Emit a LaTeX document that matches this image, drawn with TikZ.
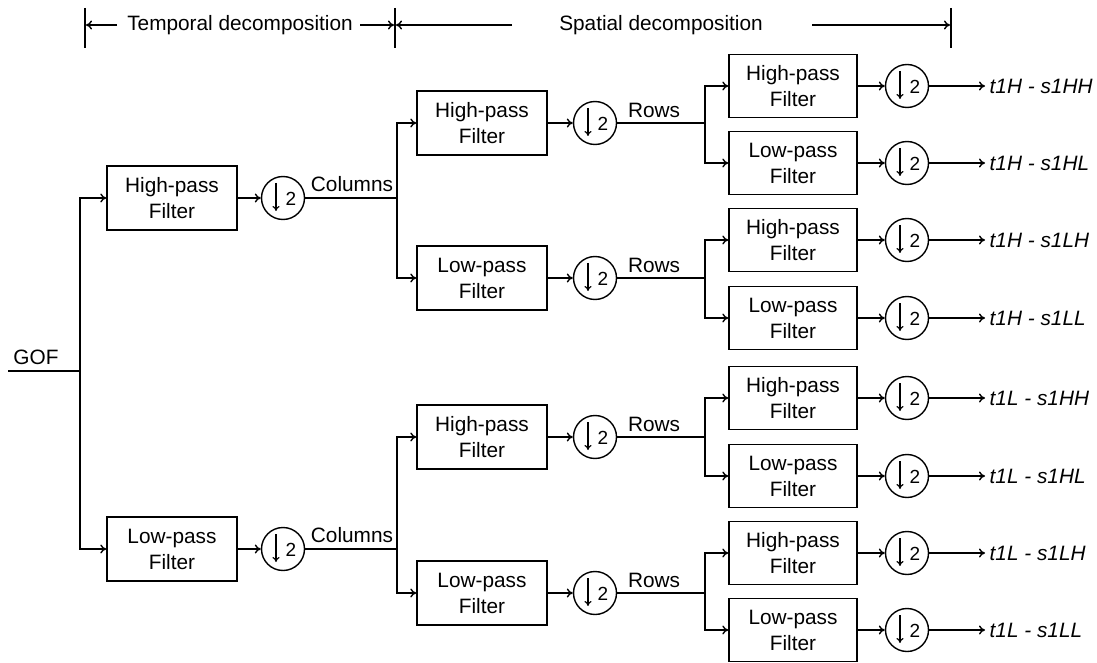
\documentclass[tikz,border=0pt]{standalone}
\usepackage{fontspec}
\setmainfont{Liberation Sans}
\usetikzlibrary{arrows.meta}
\begin{document}
\begin{tikzpicture}[x=0.5pt,y=-0.5pt, line width=0.7pt,
  every node/.style={font=\fontsize{10.4}{13}\selectfont},
  filt/.style={draw, minimum width=65pt, minimum height=32pt, align=center, inner sep=0pt},
  dn/.style={draw, circle, minimum size=21.5pt, inner sep=0pt,
    path picture={
      \draw[line width=0.6pt,-{To[length=2.5pt,width=3.5pt]}] ([xshift=-3.5pt,yshift=7.5pt]path picture bounding box.center) -- ++(0pt,-14pt);
      \node[inner sep=0pt, font=\fontsize{9.5}{11}\selectfont] at ([xshift=4pt,yshift=-0.5pt]path picture bounding box.center) {2};}},
  arr/.style={-{To[length=3pt,width=4.5pt]}},
  lbl/.style={inner sep=0pt},
  outl/.style={inner sep=0pt, anchor=west, font=\fontsize{10.4}{13}\selectfont\itshape},
]
\useasboundingbox (0,0) rectangle (1097,663);

% header
\coordinate (b1t) at (85,8);   \coordinate (b1b) at (85,48);
\coordinate (b2t) at (395,8);  \coordinate (b2b) at (395,48);
\coordinate (b3t) at (951,8);  \coordinate (b3b) at (951,48);
\draw (b1t) -- (b1b); \draw (b2t) -- (b2b); \draw (b3t) -- (b3b);
\node[lbl] (tdec) at (240,25) {Temporal decomposition};
\node[lbl] (sdec) at (661,25) {Spatial decomposition};
\coordinate (a1s) at (117,25); \coordinate (a1e) at (86,25);
\coordinate (a2s) at (360,25); \coordinate (a2e) at (394,25);
\coordinate (a3s) at (512,25); \coordinate (a3e) at (396,25);
\coordinate (a4s) at (812,25); \coordinate (a4e) at (950,25);
\draw[arr] (a1s) -- (a1e);
\draw[arr] (a2s) -- (a2e);
\draw[arr] (a3s) -- (a3e);
\draw[arr] (a4s) -- (a4e);

% input
\node[lbl] (gof) at (36,357) {GOF};
\coordinate (in0) at (8,371);
\coordinate (j0) at (80,371);
\draw (in0) -- (j0);

% level 1
\node[filt] (f1a) at (172,198) {High-pass\\Filter};
\node[filt] (f1b) at (172,549) {Low-pass\\Filter};
\draw[arr] (j0) |- (f1a.west);
\draw[arr] (j0) |- (f1b.west);
\node[dn] (c1a) at (283,198) {};
\node[dn] (c1b) at (283,549) {};
\draw[arr] (f1a) -- (c1a);
\draw[arr] (f1b) -- (c1b);
\coordinate (j1a) at (397,198);
\coordinate (j1b) at (397,549);
\draw (c1a) -- (j1a);
\draw (c1b) -- (j1b);
\node[lbl] (col1) at (352,184) {Columns};
\node[lbl] (col2) at (352,535) {Columns};

% level 2
\node[filt] (f2a) at (482,123) {High-pass\\Filter};
\node[filt] (f2b) at (482,278) {Low-pass\\Filter};
\node[filt] (f2c) at (482,437) {High-pass\\Filter};
\node[filt] (f2d) at (482,593) {Low-pass\\Filter};
\draw[arr] (j1a) |- (f2a.west);
\draw[arr] (j1a) |- (f2b.west);
\draw[arr] (j1b) |- (f2c.west);
\draw[arr] (j1b) |- (f2d.west);
\foreach \s/\y in {a/123,b/278,c/437,d/593}{
  \node[dn] (c2\s) at (595,\y) {};
  \draw[arr] (f2\s) -- (c2\s);
  \coordinate (j2\s) at (705,\y);
  \draw (c2\s) -- (j2\s);
  \node[lbl] (row\s) at (654,\y-13) {Rows};
}

% level 3
\foreach \s/\y/\t/\p/\o in {a/86/High/a/t1H - s1HH, b/163/Low/a/t1H - s1HL,
                            c/240/High/b/t1H - s1LH, d/318/Low/b/t1H - s1LL,
                            e/398/High/c/t1L - s1HH, f/476/Low/c/t1L - s1HL,
                            g/553/High/d/t1L - s1LH, h/630/Low/d/t1L - s1LL}{
  \node[filt, minimum width=64pt, minimum height=31.5pt] (f3\s) at (793,\y) {\t-pass\\Filter};
  \draw[arr] (j2\p) |- (f3\s.west);
  \node[dn] (c3\s) at (907,\y) {};
  \draw[arr] (f3\s) -- (c3\s);
  \node[outl, inner xsep=2pt] (o3\s) at (985,\y) {\o};
  \draw[arr] (c3\s) -- (o3\s.west);
}
\end{tikzpicture}
\end{document}
